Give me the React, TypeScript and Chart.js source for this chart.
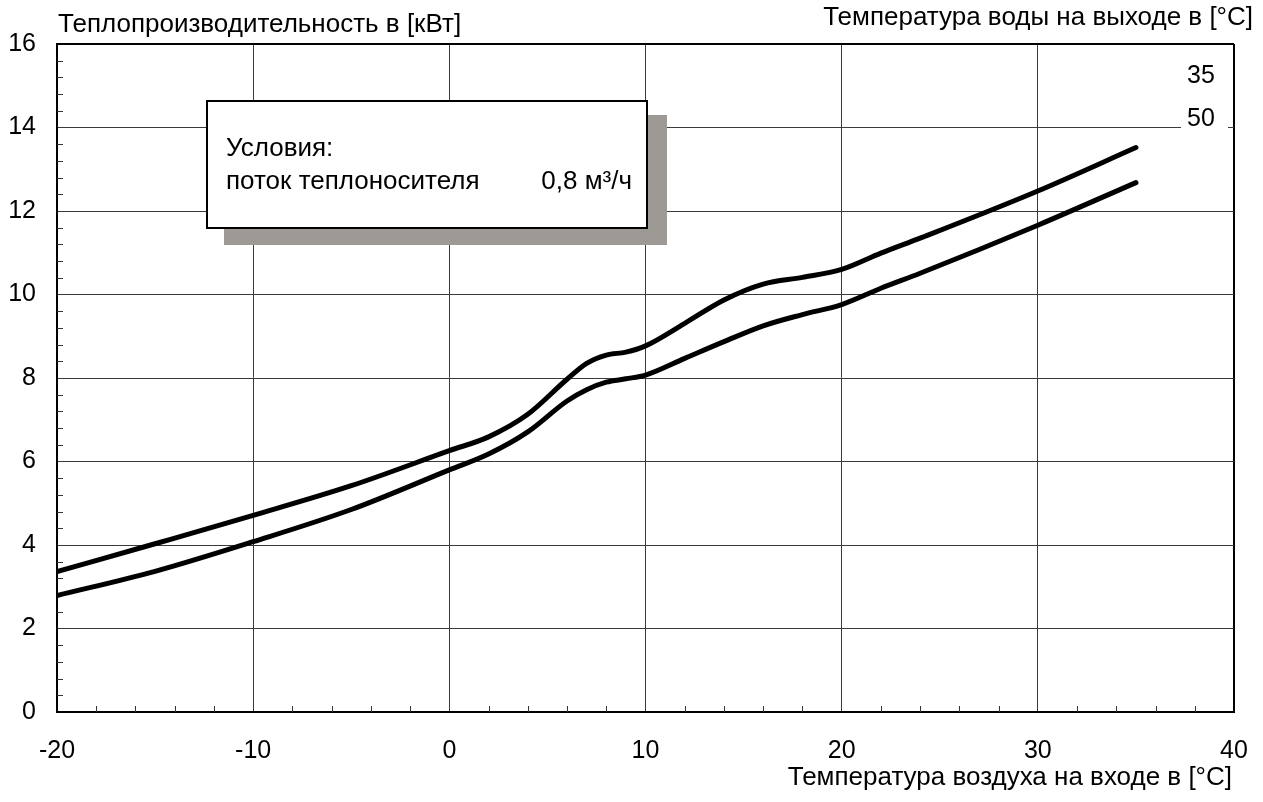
import React, { useEffect, useRef } from "react";
import { Chart, registerables } from "chart.js";

Chart.register(...registerables);

// Air inlet temperature [°C]
const airTemps = [-20, -15, -10, -5, 0, 2, 4, 6, 7, 8, 9, 10, 12, 14, 16, 18, 20, 22, 24, 30, 35];
// Heat output [kW] at water outlet 35 °C
const output35 = [3.36, 4.03, 4.71, 5.42, 6.26, 6.59, 7.13, 7.97, 8.35, 8.55, 8.62, 8.77, 9.31, 9.87, 10.25, 10.41, 10.6, 10.99, 11.35, 12.48, 13.52];
// Heat output [kW] at water outlet 50 °C
const output50 = [2.79, 3.37, 4.08, 4.85, 5.8, 6.18, 6.71, 7.45, 7.72, 7.9, 7.98, 8.07, 8.47, 8.87, 9.25, 9.52, 9.76, 10.15, 10.51, 11.66, 12.68];
const seriesLabels = ["35", "50"];

const yTitle = "Теплопроизводительность в [кВт]";
const xTitle = "Температура воздуха на входе в [°C]";
const legendTitle = "Температура воды на выходе в [°C]";
const noteTitle = "Условия:";
const noteLabel = "поток теплоносителя";
const noteValue = "0,8 м³/ч";

const FONT = '"Liberation Sans", Arial, sans-serif';

export default function App() {
  const ref = useRef<HTMLCanvasElement | null>(null);

  useEffect(() => {
    document.body.style.margin = "0";
    const canvas = ref.current!;
    const decor = {
      id: "decor",
      beforeDatasetsDraw(chart: any) {
        const ctx = chart.ctx;
        const xs = chart.scales.x;
        const ys = chart.scales.y;
        const area = chart.chartArea;
        ctx.save();
        ctx.strokeStyle = "#333";
        ctx.lineWidth = 1;
        // minor y ticks every 0.4
        for (let i = 1; i < 40; i++) {
          if (i % 5 === 0) continue;
          const py = Math.round(ys.getPixelForValue(i * 0.4)) + 0.5;
          ctx.beginPath();
          ctx.moveTo(area.left, py);
          ctx.lineTo(area.left + 6, py);
          ctx.stroke();
        }
        // minor x ticks every 2
        for (let v = -18; v < 40; v += 2) {
          if (v % 10 === 0) continue;
          const px = Math.round(xs.getPixelForValue(v)) + 0.5;
          ctx.beginPath();
          ctx.moveTo(px, area.bottom);
          ctx.lineTo(px, area.bottom - 6);
          ctx.stroke();
        }
        ctx.restore();
      },
      afterDatasetsDraw(chart: any) {
        const ctx = chart.ctx;
        const area = chart.chartArea;
        ctx.save();
        // note box with shadow
        const bx = area.left + 150;
        const by = area.top + 57;
        const bw = 440;
        const bh = 127;
        ctx.fillStyle = "#9d9a95";
        ctx.fillRect(bx + 17, by + 14, bw + 3, bh + 3);
        ctx.fillStyle = "#fff";
        ctx.fillRect(bx, by, bw, bh);
        ctx.strokeStyle = "#000";
        ctx.lineWidth = 2;
        ctx.strokeRect(bx, by, bw, bh);
        ctx.fillStyle = "#000";
        ctx.font = "26px " + FONT;
        ctx.textBaseline = "alphabetic";
        ctx.textAlign = "left";
        ctx.fillText(noteTitle, bx + 19, by + 55);
        ctx.fillText(noteLabel, bx + 19, by + 88);
        ctx.textAlign = "right";
        ctx.fillText(noteValue, bx + bw - 15, by + 88);

        // titles
        ctx.textAlign = "left";
        ctx.fillText(yTitle, 58, 32);
        ctx.textAlign = "right";
        ctx.fillText(legendTitle, 1253, 25);
        ctx.fillText(xTitle, 1232, 785);

        // curve labels
        ctx.font = "25px " + FONT;
        ctx.textAlign = "left";
        ctx.fillStyle = "#fff";
        ctx.fillRect(1181, 104, 47, 28);
        ctx.fillStyle = "#000";
        ctx.fillText(seriesLabels[0], 1187, 83);
        ctx.fillText(seriesLabels[1], 1187, 126);
        ctx.restore();
      },
    };

    const mk = (vals: number[]) => airTemps.map((x, i) => ({ x, y: vals[i] }));

    const chart = new Chart(canvas, {
      type: "line",
      data: {
        datasets: [
          {
            label: seriesLabels[0],
            data: mk(output35),
            borderColor: "#000",
            borderWidth: 5,
            pointRadius: 0,
            cubicInterpolationMode: "monotone",
            borderCapStyle: "round",
            fill: false,
          },
          {
            label: seriesLabels[1],
            data: mk(output50),
            borderColor: "#000",
            borderWidth: 5,
            pointRadius: 0,
            cubicInterpolationMode: "monotone",
            borderCapStyle: "round",
            fill: false,
          },
        ],
      },
      options: {
        responsive: false,
        animation: false,
        layout: { padding: { top: 44, right: 29, left: 0, bottom: 0 } },
        plugins: { legend: { display: false }, tooltip: { enabled: false } },
        scales: {
          x: {
            type: "linear",
            min: -20,
            max: 40,
            afterFit: (s: any) => {
              s.height = 90;
              s.paddingLeft = 0;
              s.paddingRight = 0;
            },
            ticks: {
              stepSize: 10,
              color: "#000",
              font: { size: 25, family: FONT },
              padding: 24,
              maxRotation: 0,
            },
            grid: {
              drawTicks: false,
              color: (c: any) => (c.tick && c.tick.value === 40 ? "#000" : "#3a3a3a"),
              lineWidth: (c: any) => (c.tick && c.tick.value === 40 ? 2 : 1),
            },
            border: { display: true, color: "#000", width: 2 },
          },
          y: {
            min: 0,
            max: 16,
            afterFit: (s: any) => {
              s.width = 57;
              s.paddingTop = 0;
              s.paddingBottom = 0;
            },
            ticks: {
              stepSize: 2,
              color: "#000",
              font: { size: 25, family: FONT },
              padding: 21,
            },
            grid: {
              drawTicks: false,
              color: (c: any) => (c.tick && c.tick.value === 16 ? "#000" : "#3a3a3a"),
              lineWidth: (c: any) => (c.tick && c.tick.value === 16 ? 2 : 1),
            },
            border: { display: true, color: "#000", width: 2 },
          },
        },
      },
      plugins: [decor],
    } as any);

    return () => chart.destroy();
  }, []);

  return <canvas ref={ref} width={1263} height={802} style={{ display: "block" }} />;
}
